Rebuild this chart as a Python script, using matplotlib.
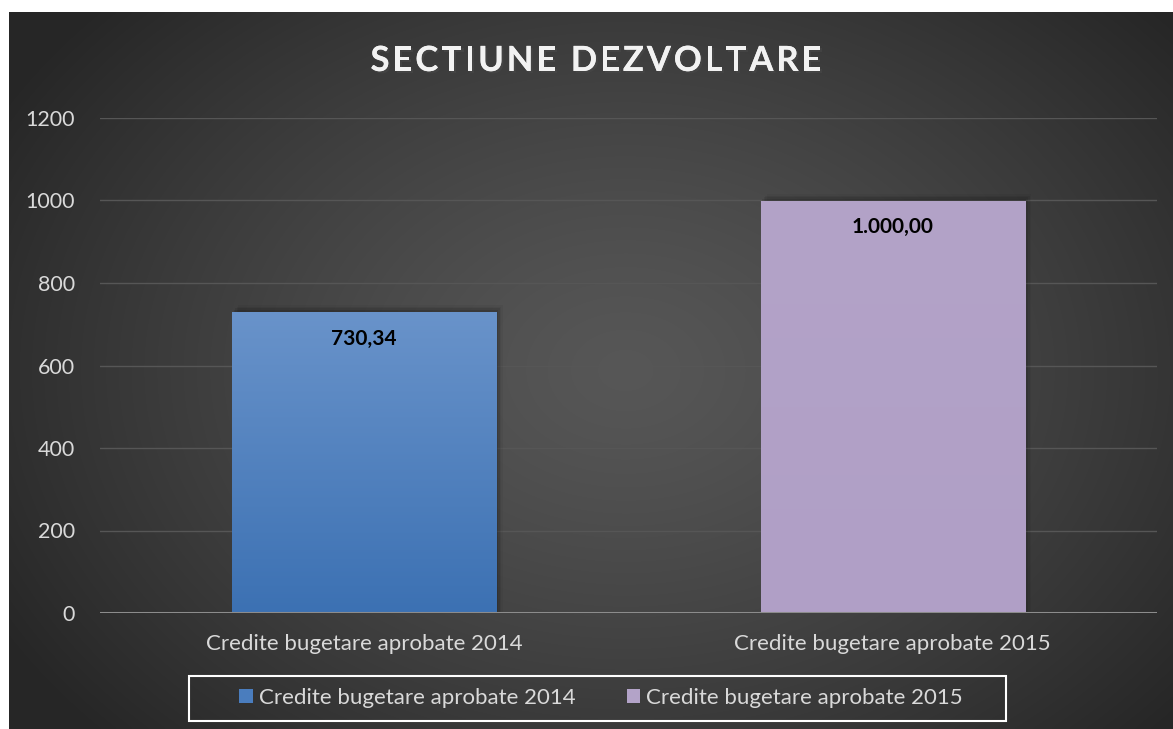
import matplotlib
matplotlib.use("Agg")
import matplotlib.pyplot as plt
import matplotlib.patheffects as pe
from matplotlib.patches import Rectangle
from matplotlib.colors import LinearSegmentedColormap
import numpy as np

categories = ["Credite bugetare aprobate 2014", "Credite bugetare aprobate 2015"]
values = [730.34, 1000.00]
value_labels = ["730,34", "1.000,00"]
yticks = [0, 200, 400, 600, 800, 1000, 1200]
title = "SECTIUNE DEZVOLTARE"

bar_top = ["#6993CA", "#B3A3C8"]
bar_bottom = ["#3C71B3", "#B09FC6"]

W, H = 1173, 729
fig = plt.figure(figsize=(W / 100, H / 100), dpi=100)
fig.patch.set_facecolor("white")

# fond sombre avec degrade radial
bg = fig.add_axes([9 / W, 0, (W - 9) / W, (H - 12) / H])
bg.set_axis_off()
yy, xx = np.mgrid[0:1:300j, 0:1:480j]
r = np.sqrt(((xx - 0.53) / 0.62) ** 2 + ((yy - 0.5) / 0.75) ** 2)
r = np.clip(r, 0, 1)
shade = 0.34 - 0.19 * r ** 1.3
bg.imshow(np.dstack([shade] * 3), aspect="auto", extent=[0, 1, 0, 1], interpolation="bilinear")
bg.set_xlim(0, 1)
bg.set_ylim(0, 1)

ax = fig.add_axes([100 / W, (H - 613) / H, 1057 / W, 495 / H])
ax.patch.set_alpha(0)

for sp in ax.spines.values():
    sp.set_visible(False)
ax.axhline(0, color="#8C8C8C", lw=2.2, zorder=3)
ax.set_yticks(yticks)
ax.yaxis.grid(True, color="#565656", lw=1.0)
ax.set_axisbelow(True)
ax.tick_params(axis="y", length=0, pad=18, labelsize=15.5, labelcolor="#D9D9D9")
ax.tick_params(axis="x", length=0, pad=15, labelsize=16, labelcolor="#D9D9D9")
ax.set_xticks(range(len(categories)))
ax.set_xticklabels(categories)
for lab in ax.get_yticklabels() + ax.get_xticklabels():
    lab.set_fontfamily("Lato")

bw = 0.5
for i, v in enumerate(values):
    # ombre douce
    for k, a in enumerate([0.10, 0.08, 0.06, 0.04]):
        off = 0.003 * (k + 1)
        ax.add_patch(Rectangle((i - bw / 2 + off, 0), bw, v + 4 * (k + 1), color="black",
                               alpha=a, lw=0, zorder=1))
    rect = Rectangle((i - bw / 2, 0), bw, v, facecolor="none", lw=0, zorder=2)
    ax.add_patch(rect)
    cmap = LinearSegmentedColormap.from_list("g%d" % i, [bar_bottom[i], bar_top[i]])
    grad = np.linspace(0, 1, 200).reshape(-1, 1)
    im = ax.imshow(grad, cmap=cmap, aspect="auto", origin="lower",
                   extent=[i - bw / 2, i + bw / 2, 0, v], zorder=2)
    im.set_clip_path(rect)
    ax.text(i, v - 65, value_labels[i], ha="center", va="center", fontsize=15,
            fontweight="bold", color="black", family="Lato", zorder=4)
ax.set_xlim(-0.5, 1.5)
ax.set_ylim(0, 1200)

# titre avec espacement des lettres
renderer = fig.canvas.get_renderer()
tkw = dict(fontsize=25, fontweight="bold", color="#F2F2F2", family="Lato", va="center", ha="left",
           path_effects=[pe.withSimplePatchShadow(offset=(1.5, -1.5), alpha=0.6), pe.Normal()])
widths = []
for ch in title:
    t = fig.text(0, 0, ch if ch != " " else "n", **tkw)
    w = t.get_window_extent(renderer).width
    widths.append(w * 0.45 if ch == " " else w)
    t.remove()
target = 451.0
gap = (target - sum(widths)) / (len(title) - 1)
x = 596 - target / 2
for ch, w in zip(title, widths):
    if ch != " ":
        fig.text(x / W, 1 - 61 / H, ch, **tkw)
    x += w + gap

# legende
fig.patches.append(Rectangle((189 / W, 1 - 721 / H), 817 / W, 45 / H, transform=fig.transFigure,
                             facecolor="none", edgecolor="white", lw=1.5))
handles = [Rectangle((0, 0), 1, 1, facecolor=c) for c in ["#4A7DBE", "#B3A3C8"]]
leg = fig.legend(handles, categories, loc="center", bbox_to_anchor=(601 / W, 1 - 698 / H),
                 ncol=2, frameon=False, handlelength=0.62, handleheight=0.62,
                 handletextpad=0.25, columnspacing=2.3, prop={"family": "Lato", "size": 16})
for t in leg.get_texts():
    t.set_color("#D9D9D9")

fig.savefig("out.png", dpi=100, facecolor=fig.get_facecolor())
